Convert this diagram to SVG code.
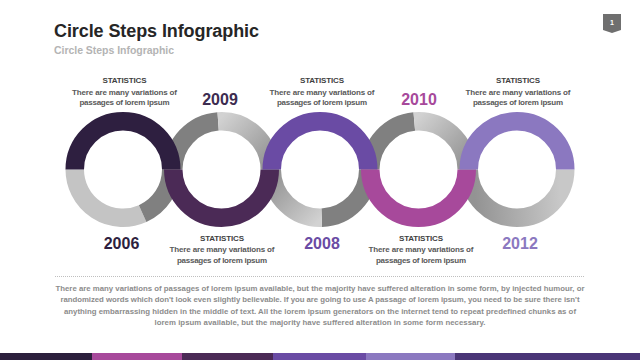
<svg xmlns="http://www.w3.org/2000/svg" width="640" height="360" viewBox="0 0 640 360">
<style>
.t{font-family:"Liberation Sans",Arial,sans-serif;font-weight:bold}
.ring{fill:none;stroke-width:18.5}
.stat{font-size:8px;fill:#3f3f3f;text-anchor:middle}
.desc{font-size:8px;fill:#595959;text-anchor:middle}
.yr{font-size:16px;text-anchor:middle}
.para{font-size:7.8px;fill:#8c8c8c;text-anchor:middle}
</style>
<defs>
<linearGradient id="gTop2" gradientUnits="userSpaceOnUse" x1="218" y1="121" x2="270" y2="170">
<stop offset="0" stop-color="#d2d2d2"/><stop offset="1" stop-color="#8e8e8e"/></linearGradient>
<linearGradient id="gTop4" gradientUnits="userSpaceOnUse" x1="414" y1="121" x2="467" y2="170">
<stop offset="0" stop-color="#d2d2d2"/><stop offset="1" stop-color="#8e8e8e"/></linearGradient>
<linearGradient id="gBot3" gradientUnits="userSpaceOnUse" x1="272" y1="170" x2="322" y2="218">
<stop offset="0" stop-color="#8e8e8e"/><stop offset="1" stop-color="#d2d2d2"/></linearGradient>
<linearGradient id="gBot5" gradientUnits="userSpaceOnUse" x1="475" y1="200" x2="560" y2="195">
<stop offset="0" stop-color="#939393"/><stop offset="1" stop-color="#c8c8c8"/></linearGradient>
</defs>
<rect width="640" height="360" fill="#ffffff"/>
<g id="header">
<text class="t" x="54" y="37" font-size="18" fill="#262626" textLength="205">Circle Steps Infographic</text>
<text class="t" x="54" y="54" font-size="10.5" fill="#b4b4b4" textLength="120">Circle Steps Infographic</text>
</g>
<g id="page-badge">
<path d="M603 14 H621 V30 L612 33 L603 30 Z" fill="#6f6f6f"/>
<text class="t" x="612" y="25" font-size="7" fill="#ffffff" text-anchor="middle">1</text>
</g>
<g id="connectors"></g>
<g id="rings-back">
<path class="ring" stroke="#c4c4c4" d="M142.62 213.58 A48.25 48.25 0 0 1 74.75 169.5"/>
<path class="ring" stroke="#808080" d="M171.25 169.5 A48.25 48.25 0 0 1 142.62 213.58"/>
<path class="ring" stroke="#808080" d="M173.25 169.5 A48.25 48.25 0 0 1 218.13 121.37"/>
<path class="ring" stroke="url(#gTop2)" d="M218.13 121.37 A48.25 48.25 0 0 1 269.75 169.5"/>
<path class="ring" stroke="#808080" d="M368.25 169.5 A48.25 48.25 0 0 1 321.68 217.72"/>
<path class="ring" stroke="url(#gBot3)" d="M321.68 217.72 A48.25 48.25 0 0 1 271.75 169.5"/>
<path class="ring" stroke="#808080" d="M370.25 169.5 A48.25 48.25 0 0 1 414.3 121.43"/>
<path class="ring" stroke="url(#gTop4)" d="M414.3 121.43 A48.25 48.25 0 0 1 466.75 169.5"/>
<path class="ring" stroke="url(#gBot5)" d="M565.25 169.5 A48.25 48.25 0 0 1 468.75 169.5"/>
</g>
<g id="step-2006">
<path class="ring" stroke="#2e1f40" d="M74.75 169.5 A48.25 48.25 0 0 1 171.25 169.5"/>
<text class="t stat" x="124.5" y="82.5" textLength="44">STATISTICS</text>
<text class="t desc" x="124.5" y="94.5" textLength="105">There are many variations of</text>
<text class="t desc" x="124.5" y="105" textLength="90">passages of lorem ipsum</text>
<text class="t yr" x="121.5" y="248.5" fill="#2e1f40">2006</text>
</g>
<g id="step-2009">
<path class="ring" stroke="#4b2a56" d="M269.75 169.5 A48.25 48.25 0 0 1 173.25 169.5"/>
<text class="t yr" x="220" y="104.5" fill="#3d2c50">2009</text>
<text class="t stat" x="222" y="240.5" textLength="44">STATISTICS</text>
<text class="t desc" x="222" y="252" textLength="105">There are many variations of</text>
<text class="t desc" x="222" y="262.5" textLength="90">passages of lorem ipsum</text>
</g>
<g id="step-2008">
<path class="ring" stroke="#6a4ba4" d="M271.75 169.5 A48.25 48.25 0 0 1 368.25 169.5"/>
<text class="t stat" x="322" y="82.5" textLength="44">STATISTICS</text>
<text class="t desc" x="322" y="94.5" textLength="105">There are many variations of</text>
<text class="t desc" x="322" y="105" textLength="90">passages of lorem ipsum</text>
<text class="t yr" x="322" y="248.5" fill="#6a4ba4">2008</text>
</g>
<g id="step-2010">
<path class="ring" stroke="#a7499b" d="M466.75 169.5 A48.25 48.25 0 0 1 370.25 169.5"/>
<text class="t yr" x="419" y="104.5" fill="#a7499b">2010</text>
<text class="t stat" x="421" y="240.5" textLength="44">STATISTICS</text>
<text class="t desc" x="421" y="252" textLength="105">There are many variations of</text>
<text class="t desc" x="421" y="262.5" textLength="90">passages of lorem ipsum</text>
</g>
<g id="step-2012">
<path class="ring" stroke="#8b78c0" d="M468.75 169.5 A48.25 48.25 0 0 1 565.25 169.5"/>
<text class="t stat" x="518" y="82.5" textLength="44">STATISTICS</text>
<text class="t desc" x="518" y="94.5" textLength="105">There are many variations of</text>
<text class="t desc" x="518" y="105" textLength="90">passages of lorem ipsum</text>
<text class="t yr" x="520" y="248.5" fill="#8b78c0">2012</text>
</g>
<g id="footer-text">
<line x1="55" y1="276.5" x2="584" y2="276.5" stroke="#bfbfbf" stroke-width="1" stroke-dasharray="1 1"/>
<text class="t para" x="320" y="290.5" textLength="529">There are many variations of passages of lorem ipsum available, but the majority have suffered alteration in some form, by injected humour, or</text>
<text class="t para" x="320" y="302" textLength="519">randomized words which don't look even slightly believable. If you are going to use A passage of lorem ipsum, you need to be sure there isn't</text>
<text class="t para" x="320" y="313.5" textLength="512">anything embarrassing hidden in the middle of text. All the lorem ipsum generators on the internet tend to repeat predefined chunks as of</text>
<text class="t para" x="320" y="325" textLength="331">lorem ipsum available, but the majority have suffered alteration in some form  necessary.</text>
</g>
<g id="bottom-bar">
<rect x="0" y="353" width="92" height="7" fill="#2c1f3c"/>
<rect x="92" y="353" width="90" height="7" fill="#a7499b"/>
<rect x="182" y="353" width="91" height="7" fill="#4b2a56"/>
<rect x="273" y="353" width="93" height="7" fill="#6a4ba4"/>
<rect x="366" y="353" width="89" height="7" fill="#8b78c0"/>
<rect x="455" y="353" width="185" height="7" fill="#4a3577"/>
</g>
</svg>
